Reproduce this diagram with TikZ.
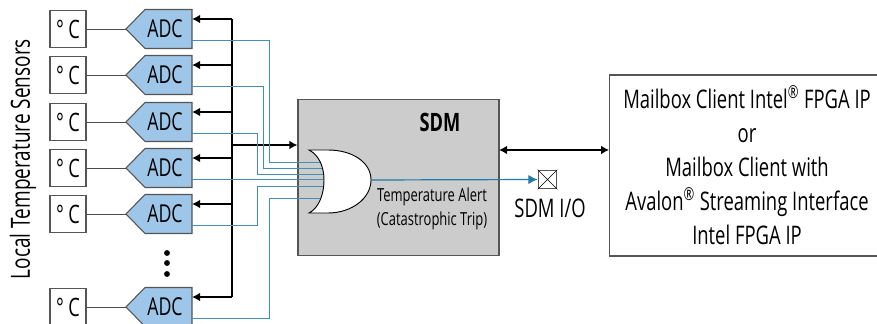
\documentclass[tikz,border=0pt]{standalone}
\usepackage{fontspec}
\setmainfont[FakeStretch=0.72]{Open Sans}
\usepackage{tikz}
\usetikzlibrary{positioning,calc,arrows.meta}
\definecolor{AdcBlue}{HTML}{9DC6E8}
\definecolor{WireBlue}{HTML}{1F7BA8}
\definecolor{SdmGray}{HTML}{CCCCCC}
\definecolor{EdgeGray}{HTML}{555555}
\tikzset{
  sensorbox/.style={draw=EdgeGray,fill=white,line width=0.8pt,minimum width=27pt,minimum height=27.5pt,inner sep=0pt,font=\fontsize{19}{19}\selectfont},
  adcbox/.style={inner sep=0pt,font=\fontsize{18.5}{18.5}\selectfont},
  busline/.style={black,line width=1.5pt},
  busarrow/.style={busline,-{Latex[length=6pt,width=6.5pt]}},
  wireline/.style={WireBlue!85!white,line width=0.9pt},
  tag/.style={inner sep=0pt,align=center},
}
\begin{document}
\begin{tikzpicture}[x=0.75pt,y=-0.75pt,font=\fontsize{19.2}{25.5}\selectfont]
  \useasboundingbox (0,0) rectangle (877,324);
  \clip (0,0) rectangle (877,324);
  % sdm block
  \node[draw=EdgeGray,fill=SdmGray,line width=0.8pt,minimum width=150.75pt,minimum height=117pt,inner sep=0pt] (sdm) at (398.5,177.5) {};
  \node[tag,font=\fontsize{19}{19}\selectfont\bfseries] (sdmtitle) at (440,122.5) {SDM};
  \node[tag,font=\fontsize{13.5}{18}\selectfont] (alert) at (432,209) {Temperature Alert\\(Catastrophic Trip)};
  % sensors, converters
  \foreach \i/\y in {1/29,2/75,3/122,4/168,5/214,6/307}{
    \node[sensorbox] (temp\i) at (68,\y) {°\,C};
    \draw[EdgeGray,line width=0.8pt,fill=AdcBlue] (126,\y) -- (145,\y-19.5) -- (192,\y-19.5) -- (192,\y+19.5) -- (145,\y+19.5) -- cycle;
    \node[adcbox] (adc\i) at (165,\y) {ADC};
    \coordinate (tip\i) at (126,\y+0.5);
    \coordinate (in\i) at (192,\y-10);
    \coordinate (out\i) at (192,\y+11.5);
    \draw[black!70,line width=0.75pt] (temp\i.east |- tip\i) -- (tip\i);
  }
  % bus
  \coordinate (bustop) at (231.5,19);
  \coordinate (busend) at (231.5,297);
  \draw[busline] (bustop) -- (busend);
  \foreach \i in {1,...,6}{\draw[busarrow] (in\i -| bustop) -- (in\i);}
  \coordinate (busin) at (231.5,145);
  \draw[busarrow] (busin) -- (busin -| sdm.west);
  % alert wires
  \foreach \i/\x/\y in {1/269.5/162.5,2/263.5/168.5,3/257.5/174.5,5/257.5/186.5,6/269.5/198.5}{
    \coordinate (g\i) at (326,\y);
    \draw[wireline] (out\i) -- (\x,0 |- out\i) -- (\x,\y) -- (g\i);
  }
  \coordinate (g4) at (326,179.5);
  \draw[wireline] (out4) -- (out4 -| g4) -- (g4);
  % or gate
  \coordinate (gateout) at (371,180);
  \draw[black,fill=white,line width=0.7pt] (309,150) -- (328,150) .. controls (352,150) and (371,162) .. (gateout) .. controls (371,198) and (352,213) .. (328,213) -- (309,213) .. controls (319,208) and (324,194) .. (324,180) .. controls (324,167) and (319,155) .. (309,150) -- cycle;
  % sdm i/o pad
  \node[draw=EdgeGray,fill=white,line width=0.8pt,minimum size=14pt,inner sep=0pt] (pad) at (547.5,179.5) {};
  \draw[black,line width=0.5pt] (pad.north west) -- (pad.south east) (pad.north east) -- (pad.south west);
  \draw[WireBlue,line width=0.9pt,-{Latex[length=7pt,width=7pt]}] (gateout) -- (pad.west);
  \node[tag] (padlabel) at (550,208) {SDM I/O};
  % mailbox block
  \node[draw=EdgeGray,fill=white,line width=0.8pt,minimum width=206pt,minimum height=135.75pt,inner sep=0pt,align=center] (mailbox) at (747,165.5) {Mailbox Client Intel\textsuperscript{®} FPGA IP\\or\\Mailbox Client with\\Avalon\textsuperscript{®} Streaming Interface\\Intel FPGA IP};
  \coordinate (linkleft) at (499,150);
  \draw[busline,{Latex[length=6pt,width=6.5pt]}-{Latex[length=6pt,width=6.5pt]}] (linkleft) -- (linkleft -| mailbox.west);
  % side label, dots
  \node[tag,rotate=90,font=\fontsize{19.8}{20}\selectfont] (sidelabel) at (23,159) {Local Temperature Sensors};
  \foreach \y in {253,263,274}{\fill[black] (167,\y) circle (2.2pt);}
\end{tikzpicture}
\end{document}
